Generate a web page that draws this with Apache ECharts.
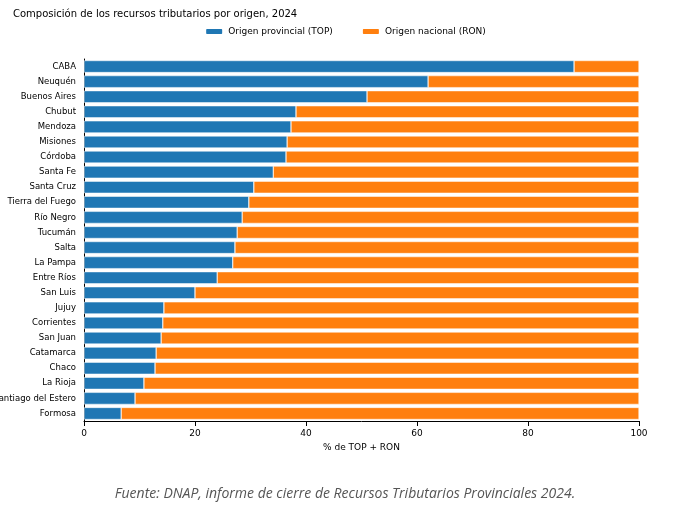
<!DOCTYPE html>
<html>
<head>
<meta charset="utf-8">
<script src="https://cdn.jsdelivr.net/npm/echarts@6/dist/echarts.min.js"></script>
<style>body{margin:0;background:#fff}#chart{width:690px;height:510px}</style>
</head>
<body>
<div id="chart"></div>
<script>
// provincias, de arriba hacia abajo
var provincias = ['CABA', 'Neuquén', 'Buenos Aires', 'Chubut', 'Mendoza', 'Misiones', 'Córdoba', 'Santa Fe',
    'Santa Cruz', 'Tierra del Fuego', 'Río Negro', 'Tucumán', 'Salta', 'La Pampa', 'Entre Ríos', 'San Luis',
    'Jujuy', 'Corrientes', 'San Juan', 'Catamarca', 'Chaco', 'La Rioja', 'Santiago del Estero', 'Formosa'];
// % origen provincial (TOP)
var top_ = [88.3, 62.0, 51.0, 38.2, 37.3, 36.6, 36.4, 34.1, 30.6, 29.7, 28.5, 27.6, 27.2, 26.8, 24.0, 20.0,
    14.4, 14.2, 13.9, 13.0, 12.8, 10.8, 9.2, 6.7];
// % origen nacional (RON) = resto
var ron = top_.map(function (v) { return +(100 - v).toFixed(1); });

var chart = echarts.init(document.getElementById('chart'));
var font = 'DejaVu Sans';
chart.setOption({
    animation: false,
    textStyle: {fontFamily: font},
    title: [{
        text: 'Composición de los recursos tributarios por origen, 2024',
        left: 8, top: 4,
        textStyle: {fontSize: 10, fontWeight: 'normal', color: '#000', fontFamily: font}
    }, {
        text: 'Fuente: DNAP, informe de cierre de Recursos Tributarios Provinciales 2024.',
        left: 'center', top: 482,
        textStyle: {fontSize: 14, fontWeight: 'normal', fontStyle: 'italic', color: '#555', fontFamily: 'Open Sans'}
    }],
    legend: {
        top: 22, left: 'center', itemWidth: 18, itemHeight: 7, itemGap: 28,
        textStyle: {fontSize: 9, color: '#000'},
        data: ['Origen provincial (TOP)', 'Origen nacional (RON)']
    },
    grid: {left: 84, right: 51, top: 59, bottom: 89, outerBoundsMode: 'none', containLabel: false},
    xAxis: {
        type: 'value', min: 0, max: 100, interval: 20,
        name: '% de TOP + RON', nameLocation: 'middle', nameGap: 20,
        nameTextStyle: {fontSize: 9, color: '#000'},
        axisLine: {show: true, lineStyle: {color: '#000'}},
        axisTick: {show: true, lineStyle: {color: '#000'}},
        axisLabel: {fontSize: 9, color: '#000'},
        splitLine: {show: false}
    },
    yAxis: {
        type: 'category', inverse: true, data: provincias,
        axisLine: {lineStyle: {color: '#000'}},
        axisTick: {alignWithLabel: true, lineStyle: {color: '#000'}},
        axisLabel: {fontSize: 8.5, color: '#000'}
    },
    series: [{
        name: 'Origen provincial (TOP)', type: 'bar', stack: 't', data: top_, barWidth: '80%',
        itemStyle: {color: '#1f77b4', borderColor: '#fff', borderWidth: 0.5}
    }, {
        name: 'Origen nacional (RON)', type: 'bar', stack: 't', data: ron, barWidth: '80%',
        itemStyle: {color: '#ff7f0e', borderColor: '#fff', borderWidth: 0.5}
    }]
});
</script>
</body>
</html>
